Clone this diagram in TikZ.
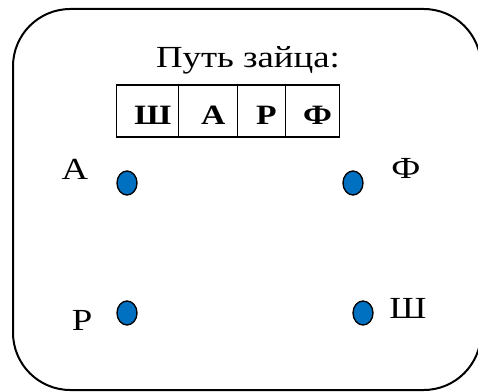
\documentclass[tikz,border=0pt]{standalone}
\usepackage{fontspec}
\setmainfont[FakeStretch=1.2]{Liberation Serif}
\usetikzlibrary{positioning, shapes.geometric}
\definecolor{dotblue}{RGB}{0,112,192}
\tikzset{x=0.75pt, y=-0.75pt,
         every node/.style={font=\fontsize{23}{27}\selectfont},
         frame/.style={line width=1.5pt, rounded corners=43pt},
         cell/.style={draw, line width=1pt, outer sep=0pt, inner sep=0pt,
                      minimum height=39pt, text height=21pt, text depth=0pt,
                      execute at begin node={\kern8pt},
                      font=\fontsize{21}{25}\selectfont\bfseries},
         stop/.style={ellipse, draw, line width=1pt, fill=dotblue,
                      minimum width=15pt, minimum height=18pt, inner sep=0pt},
         }

\begin{document}
\begin{tikzpicture}
    \useasboundingbox (0,0) rectangle (478,392);
    \draw[frame] (13,9) rectangle (481,390);

    \node[anchor=base] (title) at (248,67.5) {Путь зайца:};
    \node[cell, minimum width=46.5pt] (c1) at (147.5,111) {Ш};
    \node[cell, minimum width=44pt, right=0pt of c1] (c2) {А};
    \node[cell, minimum width=36pt, right=0pt of c2] (c3) {Р};
    \node[cell, minimum width=40.5pt, right=0pt of c3] (c4) {Ф};

    \node[stop] (sa) at (127,183) {};
    \node[stop] (sf) at (353,183) {};
    \node[stop] (sr) at (127,313) {};
    \node[stop] (ssh) at (363,313) {};

    \node[anchor=base] (la) at (75,179.5) {А};
    \node[anchor=base] (lf) at (406,179) {Ф};
    \node[anchor=base] (lr) at (82,330) {Р};
    \node[anchor=base] (lsh) at (408,318) {Ш};
\end{tikzpicture}
\end{document}
